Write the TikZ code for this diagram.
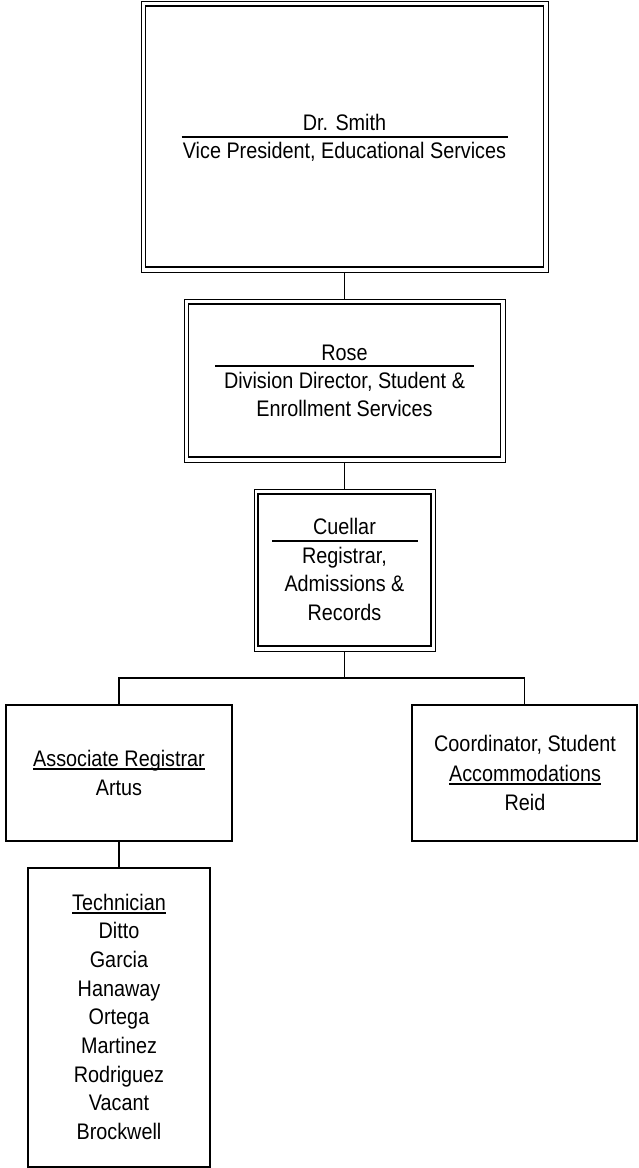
\documentclass[tikz,border=0pt]{standalone}
\usepackage{fontspec}
\setmainfont{Liberation Sans}[FakeStretch=0.88]
\newcommand{\ulx}[1]{{\setbox0\hbox{#1}\rlap{\vrule height -2.2pt depth 3.5pt width \wd0}\box0}}
\begin{document}
\begin{tikzpicture}[x=1pt,y=-1pt,
  box/.style={draw=black,line width=1.4pt,rectangle,inner sep=0pt,outer sep=0pt},
  dbox/.style={draw=black,line width=0.9pt,rectangle,inner sep=0pt,outer sep=0pt},
  innerline/.style={draw=black,line width=1.7pt},
  conn/.style={draw=black,line width=1.2pt},
  sep/.style={draw=black,line width=1.3pt},
  txt/.style={anchor=base,inner sep=0pt,font=\fontsize{22.5}{28}\selectfont}]
\useasboundingbox (0,0) rectangle (638,1168);

% boxes
\node[dbox,minimum width=407pt,minimum height=270.5pt] (smith) at (344.5,136.75) {};
\node[dbox,minimum width=321pt,minimum height=163pt] (rose) at (344.5,380.5) {};
\node[dbox,minimum width=181pt,minimum height=162pt] (cuellar) at (344.5,570) {};
\node[box,minimum width=226pt,minimum height=136pt] (assoc) at (119,773) {};
\node[box,minimum width=225pt,minimum height=136pt] (coord) at (524.5,773) {};
\node[box,minimum width=182pt,minimum height=299pt] (tech) at (119,1017.5) {};

% inner lines of double boxes
\draw[innerline] ([shift={(4.6,4.8)}]smith.north west) rectangle ([shift={(-4.6,-4.8)}]smith.south east);
\draw[innerline] ([shift={(4.6,4.8)}]rose.north west) rectangle ([shift={(-4.6,-4.8)}]rose.south east);
\draw[innerline] ([shift={(4.2,4.8)}]cuellar.north west) rectangle ([shift={(-4.2,-4.8)}]cuellar.south east);

% texts: Smith
\node[txt] (smithname) at (344.5,130) {Dr. Smith};
\draw[sep] (181.5,137) -- (507.5,137);
\node[txt] (smithtitle) at (344.5,158) {Vice President, Educational Services};

% Rose
\node[txt] (rosename) at (344.5,360) {Rose};
\draw[sep] (215,366) -- (474,366);
\node[txt] (rosetitle1) at (344.5,388) {Division Director, Student \&};
\node[txt] (rosetitle2) at (344.5,416) {Enrollment Services};

% Cuellar
\node[txt] (cuellarname) at (344.5,534) {Cuellar};
\draw[sep] (272,541) -- (418,541);
\node[txt] (cuellart1) at (344.5,563) {Registrar,};
\node[txt] (cuellart2) at (344.5,591.5) {Admissions \&};
\node[txt] (cuellart3) at (344.5,620.5) {Records};

% Associate Registrar
\node[txt] (assoct1) at (119,766) {\ulx{Associate Registrar}};
\node[txt] (assoct2) at (119,795) {Artus};

% Coordinator
\node[txt] (coordt1) at (525,751) {Coordinator, Student};
\node[txt] (coordt2) at (525,781) {\ulx{Accommodations}};
\node[txt] (coordt3) at (525,810) {Reid};

% Technician
\node[txt] (techt0) at (119,910) {\ulx{Technician}};
\node[txt] (techt1) at (119,938.7) {Ditto};
\node[txt] (techt2) at (119,967.4) {Garcia};
\node[txt] (techt3) at (119,996.1) {Hanaway};
\node[txt] (techt4) at (119,1024.8) {Ortega};
\node[txt] (techt5) at (119,1053.5) {Martinez};
\node[txt] (techt6) at (119,1082.2) {Rodriguez};
\node[txt] (techt7) at (119,1110.9) {Vacant};
\node[txt] (techt8) at (119,1139.6) {Brockwell};

% connectors
\coordinate (bus) at (344.5,678);
\draw[conn] (smith.south) -- (rose.north);
\draw[conn] (rose.south) -- (cuellar.north);
\draw[conn] (cuellar.south) -- (bus);
\draw[conn] (bus) -| (assoc.north);
\draw[conn] (bus) -| (coord.north);
\draw[conn] (assoc.south) -- (tech.north);
\end{tikzpicture}
\end{document}
